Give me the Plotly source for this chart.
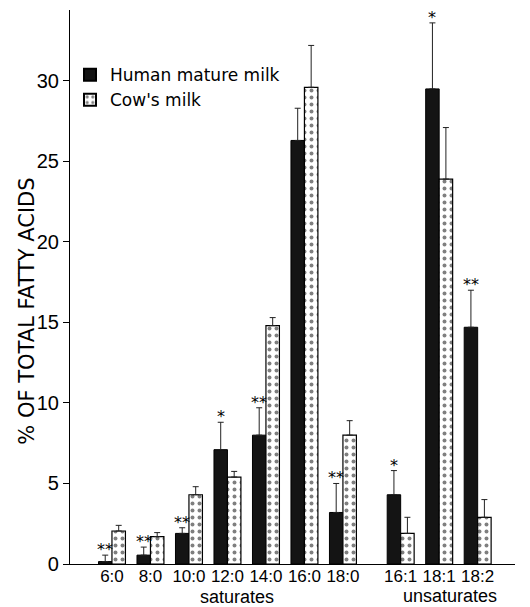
import plotly.graph_objects as go

saturates = ["6:0", "8:0", "10:0", "12:0", "14:0", "16:0", "18:0"]
unsaturates = ["16:1", "18:1", "18:2"]
labels = saturates + unsaturates

human = [0.15, 0.55, 1.9, 7.1, 8.0, 26.3, 3.2, 4.3, 29.5, 14.7]
human_err = [0.4, 0.5, 0.35, 1.7, 1.7, 2.0, 1.8, 1.5, 4.1, 2.3]
cow = [2.05, 1.7, 4.3, 5.4, 14.8, 29.6, 8.0, 1.9, 23.9, 2.9]
cow_err = [0.35, 0.25, 0.5, 0.35, 0.5, 2.6, 0.9, 1.0, 3.2, 1.1]
stars = ["**", "**", "**", "*", "**", "", "**", "*", "*", "**"]

GROUP_GAP = 0.5
xpos = [i for i in range(len(saturates))] + [len(saturates) + GROUP_GAP + j for j in range(len(unsaturates))]

FONT = "DejaVu Sans"
TICKFONT = "Liberation Sans"

fig = go.Figure()
fig.add_trace(go.Bar(
    x=xpos, y=human, name="Human mature milk",
    marker=dict(color="#141414", line=dict(color="#000", width=1)),
    error_y=dict(type="data", symmetric=False, array=human_err,
                 arrayminus=[0] * len(human), color="#222", thickness=1, width=3),
))
fig.add_trace(go.Bar(
    x=xpos, y=cow, name="Cow's milk",
    marker=dict(color="white", line=dict(color="#000", width=1.2),
                pattern=dict(shape=".", fgcolor="#000", bgcolor="white",
                             size=7, solidity=0.25)),
    error_y=dict(type="data", symmetric=False, array=cow_err,
                 arrayminus=[0] * len(cow), color="#222", thickness=1, width=3),
))

# significance asterisks above human bars
for x, v, e, s in zip(xpos, human, human_err, stars):
    if s:
        fig.add_annotation(x=x - 0.175, y=v + e, text=s, showarrow=False,
                           xanchor="center", yanchor="bottom", yshift=-6,
                           font=dict(family=FONT, size=16, color="#000"))

sat_center = (xpos[0] + xpos[len(saturates) - 1]) / 2
unsat_center = (xpos[len(saturates)] + xpos[-1]) / 2
fig.add_annotation(x=sat_center + 0.25, y=-0.059, yref="paper", text="saturates",
                   xanchor="center", yanchor="middle", showarrow=False,
                   font=dict(family=TICKFONT, size=18, color="#000"))
fig.add_annotation(x=unsat_center + 0.28, y=-0.057, yref="paper", text="unsaturates",
                   xanchor="center", yanchor="middle", showarrow=False,
                   font=dict(family=TICKFONT, size=18, color="#000"))

# y-axis title
fig.add_annotation(x=-0.097, y=0.457, xref="paper", yref="paper",
                   xanchor="center", yanchor="middle",
                   text="% OF TOTAL FATTY ACIDS", textangle=-90, showarrow=False,
                   font=dict(family=FONT, size=21, color="#000"))

fig.update_layout(
    width=522, height=599,
    margin=dict(l=62, r=15, t=2, b=43, autoexpand=False),
    paper_bgcolor="white", plot_bgcolor="white",
    barmode="group", bargap=0.3, bargroupgap=0,
    font=dict(family=FONT, color="#000"),
    legend=dict(x=0.0, y=0.915, xanchor="left", yanchor="top",
                bgcolor="rgba(0,0,0,0)", font=dict(family=FONT, size=17),
                itemsizing="constant", tracegroupgap=0),
    showlegend=True,
)
fig.update_xaxes(
    range=[-1.09, 10.47], tickvals=xpos, ticktext=labels, tickangle=0,
    automargin=False, ticklabelstandoff=-4,
    showline=True, linecolor="#000", linewidth=1.2, ticks="",
    showgrid=False, zeroline=False,
    tickfont=dict(family=TICKFONT, size=17, color="#000"),
)
fig.update_yaxes(
    range=[0, 34.4], tickvals=[0, 5, 10, 15, 20, 25, 30], automargin=False,
    showline=True, linecolor="#000", linewidth=1.2, ticks="outside", ticklen=6,
    tickcolor="#000", showgrid=False, zeroline=False,
    tickfont=dict(family=TICKFONT, size=20, color="#000"),
)

fig.write_html("out.html")
